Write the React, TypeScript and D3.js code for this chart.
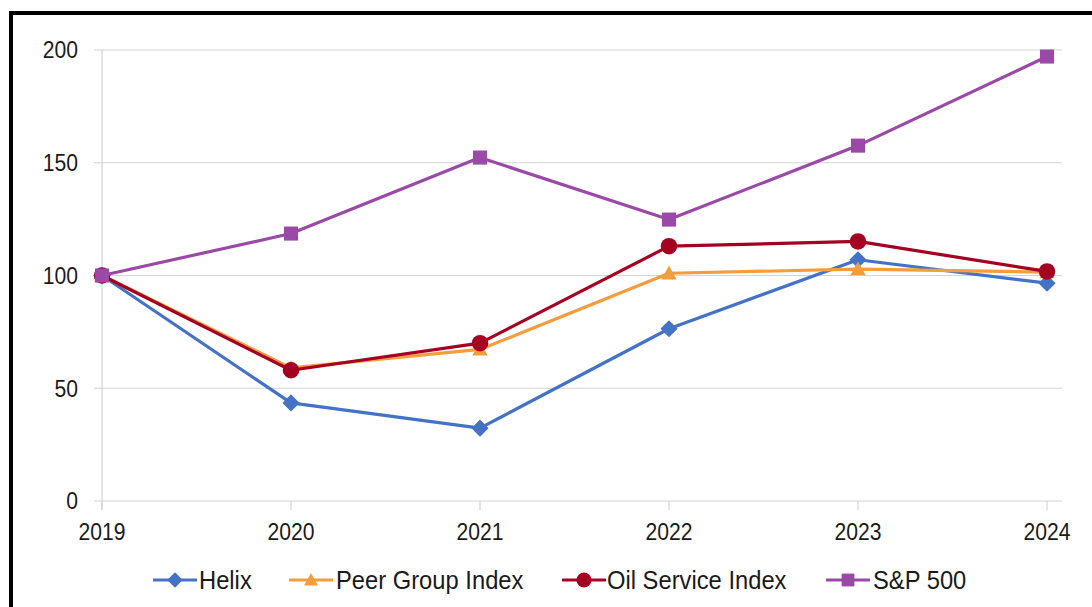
import React from "react";
import * as d3 from "d3";

const years = ["2019", "2020", "2021", "2022", "2023", "2024"];
const helix = [100, 43.5, 32.3, 76.4, 107, 96.6];
const peerGroup = [100, 59, 67.2, 101, 102.8, 101.5];
const oilService = [100, 58, 70, 113, 115.1, 101.8];
const sp500 = [100, 118.6, 152.3, 124.8, 157.6, 197.1];
const yTicks = [0, 50, 100, 150, 200];

const seriesNames = ["Helix", "Peer Group Index", "Oil Service Index", "S&P 500"];
const seriesColors = ["#4472C4", "#F59D3D", "#A50021", "#9A4AA6"];
const seriesMarkers = ["diamond", "triangle", "circle", "square"];
const seriesValues = [helix, peerGroup, oilService, sp500];

const W = 1092;
const H = 607;
const FONT = "'Liberation Sans', Arial, sans-serif";

function Marker({ kind, x, y, color, s }: { kind: string; x: number; y: number; color: string; s: number }) {
  if (kind === "diamond") {
    const r = s * 0.78;
    return <path d={`M${x},${y - r}L${x + r},${y}L${x},${y + r}L${x - r},${y}Z`} fill={color} />;
  }
  if (kind === "triangle") {
    const r = s * 0.7;
    return <path d={`M${x},${y - r}L${x + r},${y + r * 0.8}L${x - r},${y + r * 0.8}Z`} fill={color} />;
  }
  if (kind === "circle") {
    return <circle cx={x} cy={y} r={s * 0.75} fill={color} />;
  }
  const h = s * 0.64;
  return <rect x={x - h} y={y - h} width={h * 2} height={h * 2} fill={color} />;
}

function Label({ x, y, anchor, size, sx, children }: { x: number; y: number; anchor: string; size: number; sx: number; children: any }) {
  return (
    <text
      transform={`translate(${x},${y}) scale(${sx},1)`}
      dy="0.35em"
      textAnchor={anchor}
      fontSize={size}
      fill="#1a1a1a"
    >
      {children}
    </text>
  );
}

export default function App() {
  const x = d3.scalePoint<string>().domain(years).range([102, 1047]);
  const y = d3.scaleLinear().domain([0, 200]).range([501, 50]);
  const line = d3
    .line<number>()
    .x((_, i) => x(years[i]) as number)
    .y((d) => y(d));

  const legendItems = [
    { lx: 153, tx: 199 },
    { lx: 289, tx: 336 },
    { lx: 562, tx: 607 },
    { lx: 826, tx: 873 },
  ];

  return (
    <svg
      width={W}
      height={H}
      style={{ position: "absolute", left: 0, top: 0, background: "#fff" }}
      fontFamily={FONT}
    >
      <rect x={0} y={0} width={W} height={H} fill="#fff" />
      <rect x={11} y={13} width={W + 20} height={H + 20} fill="none" stroke="#000" strokeWidth={4} />
      {yTicks.map((t) => (
        <g key={t}>
          <line x1={94} x2={1062} y1={y(t)} y2={y(t)} stroke="#D4D4D4" strokeWidth={1.2} />
          <Label x={78} y={y(t)} anchor="end" size={24} sx={0.88}>
            {t}
          </Label>
        </g>
      ))}
      <line x1={102} x2={102} y1={50} y2={510} stroke="#D4D4D4" strokeWidth={1.2} />
      {years.map((yr) => (
        <g key={yr}>
          <line x1={x(yr)} x2={x(yr)} y1={501} y2={510} stroke="#D4D4D4" strokeWidth={1.2} />
          <Label x={x(yr) as number} y={532} anchor="middle" size={24} sx={0.88}>
            {yr}
          </Label>
        </g>
      ))}
      {seriesValues.map((vals, si) => (
        <g key={si}>
          <path d={line(vals) || ""} fill="none" stroke={seriesColors[si]} strokeWidth={3.2} strokeLinejoin="round" />
          {vals.map((v, i) => (
            <Marker key={i} kind={seriesMarkers[si]} x={x(years[i]) as number} y={y(v)} color={seriesColors[si]} s={11} />
          ))}
        </g>
      ))}
      {legendItems.map((it, i) => (
        <g key={i}>
          <line x1={it.lx} x2={it.lx + 44} y1={580} y2={580} stroke={seriesColors[i]} strokeWidth={3} />
          <Marker kind={seriesMarkers[i]} x={it.lx + 22} y={580} color={seriesColors[i]} s={10} />
          <Label x={it.tx} y={580} anchor="start" size={25} sx={0.95}>
            {seriesNames[i]}
          </Label>
        </g>
      ))}
    </svg>
  );
}
